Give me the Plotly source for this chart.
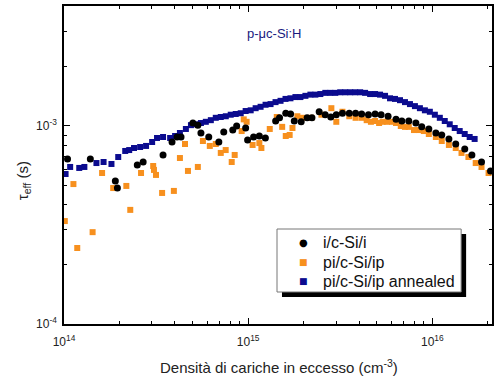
import numpy as np
import plotly.graph_objects as go

# ---- data: excess carrier density (cm^-3) and effective lifetime (ms) ----
n_i = [1.045e14, 1.39e14, 1.90e14, 1.95e14, 2.50e14, 2.69e14, 3.45e14, 3.86e14, 4.11e14, 4.32e14,
       5.01e14, 5.33e14, 5.54e14, 6.11e14, 6.93e14, 7.37e14, 8.25e14, 8.66e14, 9.69e14, 9.93e14,
       1.07e15, 1.15e15, 1.24e15, 1.41e15, 1.48e15, 1.60e15, 1.70e15, 1.78e15, 1.94e15, 2.09e15,
       2.22e15, 2.43e15, 2.62e15, 2.81e15, 3.01e15, 3.25e15, 3.54e15, 3.83e15, 4.13e15, 4.50e15,
       4.89e15, 5.27e15, 5.75e15, 6.35e15, 6.83e15, 7.45e15, 8.14e15, 8.76e15, 9.57e15, 1.045e16,
       1.125e16, 1.23e16, 1.34e16, 1.50e16, 1.64e16, 1.85e16, 2.07e16]
tau_i_ms = [0.681, 0.681, 0.528, 0.486, 0.635, 0.658, 0.714, 0.830, 0.880, 0.880,
            1.035, 1.01, 0.922, 0.880, 0.830, 0.933, 0.954, 1.00, 0.977, 0.850,
            0.880, 0.890, 0.870, 1.06, 1.10, 1.16, 1.15, 1.06, 1.05, 1.10,
            1.10, 1.18, 1.14, 1.11, 1.14, 1.16, 1.16, 1.16, 1.15, 1.14,
            1.15, 1.14, 1.12, 1.08, 1.06, 1.06, 1.035, 0.99, 0.966, 0.922,
            0.901, 0.860, 0.811, 0.765, 0.714, 0.658, 0.593]

n_p = [1.01e14, 1.125e14, 1.18e14, 1.43e14, 1.61e14, 1.85e14, 2.18e14, 2.29e14, 2.62e14, 3.05e14,
       3.08e14, 3.16e14, 3.41e14, 3.95e14, 4.26e14, 4.54e14, 4.71e14, 5.33e14, 5.68e14, 6.19e14,
       6.67e14, 7.10e14, 7.55e14, 8.14e14, 8.45e14, 9.22e14, 9.46e14, 9.81e14, 1.057e15, 1.15e15,
       1.18e15, 1.31e15, 1.43e15, 1.53e15, 1.60e15, 1.68e15, 1.74e15, 1.85e15, 1.97e15, 2.20e15,
       2.50e15, 2.83e15, 3.01e15, 3.25e15, 3.54e15, 3.83e15, 4.13e15, 4.40e15, 4.64e15, 4.89e15,
       5.14e15, 5.37e15, 5.68e15, 6.04e15, 6.35e15, 6.74e15, 7.10e15, 7.45e15, 7.95e15, 8.45e15,
       8.99e15, 9.57e15, 1.045e16, 1.125e16, 1.23e16, 1.34e16, 1.44e16, 1.57e16, 1.72e16, 1.85e16,
       2.02e16]
tau_p_ms = [0.331, 0.509, 0.242, 0.291, 0.579, 0.486, 0.498, 0.377, 0.579, 0.628,
            0.600, 0.566, 0.459, 0.470, 0.689, 0.811, 0.593, 0.621, 0.840, 0.793,
            0.811, 0.731, 0.756, 0.658, 0.714, 0.943, 1.08, 1.05, 0.802, 0.820,
            0.774, 0.966, 1.11, 0.99, 0.890, 0.901, 0.977, 1.12, 1.10, 1.10,
            1.14, 1.23, 1.05, 1.18, 1.12, 1.10, 1.10, 1.07, 1.05, 1.06,
            1.035, 1.05, 1.05, 1.05, 1.035, 1.00, 0.99, 0.99, 0.954, 0.954,
            0.943, 0.911, 0.880, 0.840, 0.802, 0.774, 0.731, 0.697, 0.650, 0.621,
            0.579]

n_a = [1.02e14, 1.08e14, 1.21e14, 1.29e14, 1.50e14, 1.64e14, 1.81e14, 1.97e14, 2.15e14, 2.26e14,
       2.40e14, 2.59e14, 2.79e14, 3.01e14, 3.20e14, 3.45e14, 3.77e14, 4.01e14, 4.26e14,
       4.59e14, 4.89e14, 5.20e14, 5.54e14, 5.89e14, 6.27e14, 6.67e14, 7.10e14, 7.56e14, 8.04e14,
       8.56e14, 9.11e14, 9.69e14, 1.032e15, 1.098e15, 1.168e15, 1.243e15, 1.323e15, 1.408e15, 1.499e15,
       1.595e15, 1.697e15, 1.806e15, 1.922e15, 2.046e15, 2.177e15, 2.317e15, 2.466e15, 2.624e15, 2.792e15,
       2.972e15, 3.162e15, 3.365e15, 3.582e15, 3.811e15, 4.056e15, 4.316e15, 4.594e15, 4.889e15, 5.203e15,
       5.537e15, 5.893e15, 6.272e15, 6.674e15, 7.103e15, 7.560e15, 8.045e15, 8.561e15, 9.111e15, 9.694e15,
       1.032e16, 1.098e16, 1.168e16, 1.243e16, 1.323e16, 1.408e16, 1.499e16, 1.595e16, 1.697e16]
tau_a_ms = [0.572, 0.621, 0.614, 0.621, 0.650, 0.658, 0.643, 0.697, 0.748, 0.756,
            0.774, 0.783, 0.793, 0.830, 0.870, 0.880, 0.870, 0.890, 0.922,
            0.966, 1.01, 1.02, 1.035, 1.05, 1.07, 1.10, 1.11, 1.12, 1.14,
            1.15, 1.16, 1.19, 1.20, 1.23, 1.25, 1.28, 1.29, 1.32, 1.34,
            1.37, 1.38, 1.40, 1.40, 1.42, 1.44, 1.44, 1.45, 1.47, 1.47,
            1.47, 1.48, 1.48, 1.48, 1.48, 1.48, 1.47, 1.45, 1.45, 1.44,
            1.42, 1.38, 1.37, 1.35, 1.32, 1.29, 1.26, 1.23, 1.20, 1.18,
            1.14, 1.10, 1.06, 1.02, 0.977, 0.943, 0.911, 0.880, 0.860]

series_names = ["i/c-Si/i", "pi/c-Si/ip", "pi/c-Si/ip annealed"]

x_tickvals = [1e14, 1e15, 1e16]
x_ticktext = ["10<sup>14</sup>", "10<sup>15</sup>", "10<sup>16</sup>"]
y_tickvals = [1e-4, 1e-3]
y_ticktext = ["10<sup>-4</sup>", "10<sup>-3</sup>"]

ORANGE = "#f7901e"
NAVY = "#0b0b8f"
FONT = "Arial, Liberation Sans, sans-serif"

fig = go.Figure()
fig.add_trace(go.Scatter(x=n_p, y=np.array(tau_p_ms) * 1e-3, mode="markers", name=series_names[1],
                         marker=dict(symbol="square", size=6, color=ORANGE)))
fig.add_trace(go.Scatter(x=n_a, y=np.array(tau_a_ms) * 1e-3, mode="markers", name=series_names[2],
                         marker=dict(symbol="square", size=6, color=NAVY)))
fig.add_trace(go.Scatter(x=n_i, y=np.array(tau_i_ms) * 1e-3, mode="markers", name=series_names[0],
                         marker=dict(symbol="circle", size=7, color="black")))

x_minor = [m * 10.0 ** e for e in (14, 15) for m in range(2, 10)] + [2e16]
y_minor = [m * 10.0 ** e for e in (-4,) for m in range(2, 10)] + [2e-3, 3e-3, 4e-3]

axis_common = dict(showline=True, linecolor="black", linewidth=1.5, mirror="ticks",
                   ticks="inside", ticklen=6, tickwidth=1.2, tickcolor="black",
                   showgrid=False, zeroline=False,
                   tickfont=dict(family=FONT, size=12, color="#222"))

fig.update_xaxes(type="log", range=[14, 16.324], tickmode="array", tickvals=x_tickvals,
                 ticktext=x_ticktext, ticklabelstandoff=6,
                 minor=dict(tickmode="array", tickvals=x_minor, ticks="inside", ticklen=3,
                            tickwidth=1, tickcolor="black", showgrid=False),
                 **axis_common)
fig.update_yaxes(type="log", range=[-4, -2.394], tickmode="array", tickvals=y_tickvals,
                 ticktext=y_ticktext, ticklabelstandoff=3,
                 minor=dict(tickmode="array", tickvals=y_minor, ticks="inside", ticklen=3,
                            tickwidth=1, tickcolor="black", showgrid=False),
                 **axis_common)

# ---- legend box with drop shadow (pixel layout relative to plot area 64..494 x 6..324) ----
def px(xp):
    return (xp - 64) / 430

def py(yp):
    return (324 - yp) / 318

fig.add_shape(type="rect", xref="paper", yref="paper",
              x0=px(283), x1=px(468), y0=py(297), y1=py(234),
              fillcolor="black", line=dict(width=0), layer="above")
fig.add_shape(type="rect", xref="paper", yref="paper",
              x0=px(278), x1=px(463), y0=py(292), y1=py(229),
              fillcolor="white", line=dict(color="#777", width=1), layer="above")

legend_rows = [(series_names[0], "\u25cf", "black", 10, 243),
               (series_names[1], "\u25a0", ORANGE, 9, 262),
               (series_names[2], "\u25a0", NAVY, 9, 281)]
for label, glyph, col, gsize, yrow in legend_rows:
    fig.add_annotation(x=px(305), y=py(yrow), xref="paper", yref="paper",
                       xanchor="center", yanchor="middle", text=glyph, showarrow=False,
                       font=dict(family="DejaVu Sans", size=gsize, color=col))
    fig.add_annotation(x=px(322), y=py(yrow), xref="paper", yref="paper",
                       xanchor="left", yanchor="middle", text=label, showarrow=False,
                       font=dict(family=FONT, size=16, color="#111"))

fig.add_annotation(x=px(275), y=py(34), xref="paper", yref="paper",
                   xanchor="center", yanchor="middle", text="p-\u03bcc-Si:H",
                   showarrow=False, font=dict(family=FONT, size=13, color="#1a1a80"))
fig.add_annotation(x=px(23), y=py(181), xref="paper", yref="paper",
                   xanchor="center", yanchor="middle",
                   text="\u03c4<sub>eff</sub> (s)", textangle=-90, showarrow=False,
                   font=dict(family=FONT, size=15, color="#222"))
fig.add_annotation(x=px(280), y=py(366), xref="paper", yref="paper",
                   xanchor="center", yanchor="middle",
                   text="Densit\u00e0 di cariche in eccesso (cm<sup>-3</sup>)", showarrow=False,
                   font=dict(family=FONT, size=15, color="#222"))

fig.update_layout(
    width=494, height=381,
    margin=dict(l=64, r=0, t=6, b=57),
    paper_bgcolor="white", plot_bgcolor="white",
    showlegend=False,
)

fig.write_html("out.html")
